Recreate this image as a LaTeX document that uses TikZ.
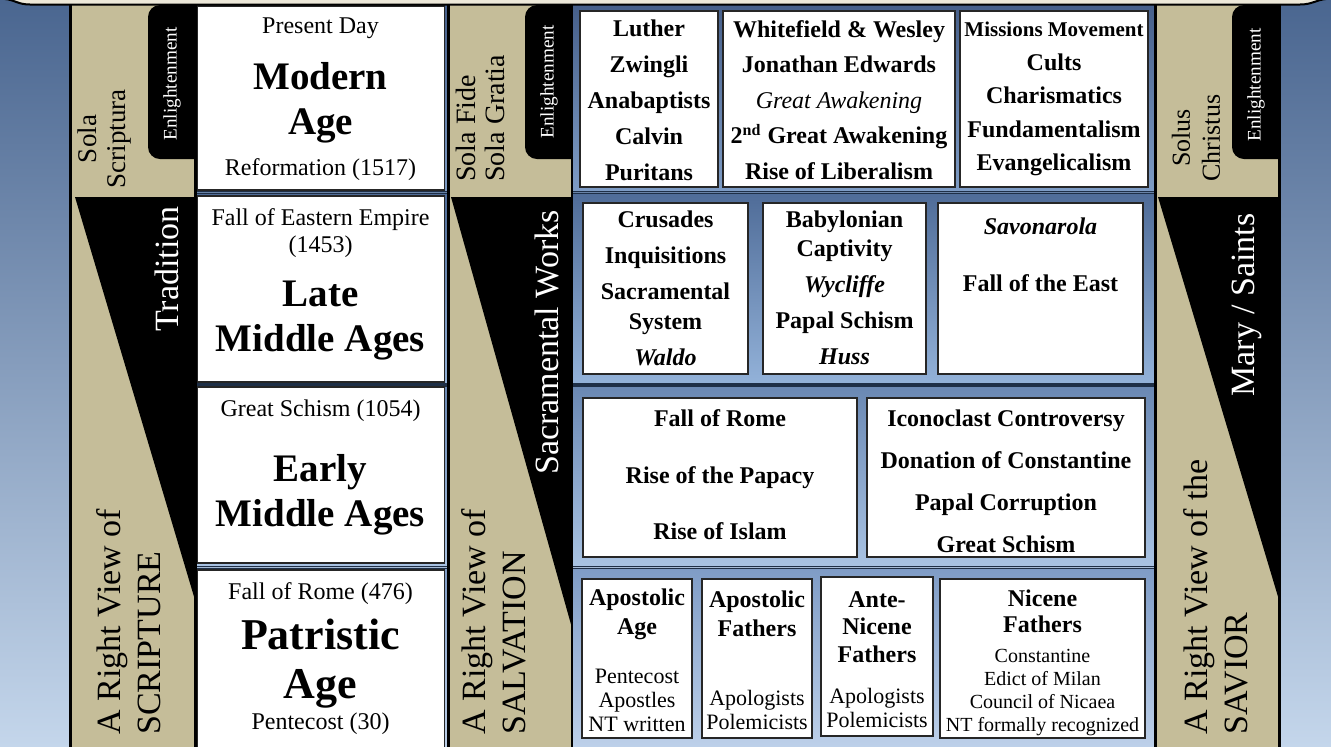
\documentclass[tikz,border=0pt]{standalone}
\usepackage{fontspec}
\setmainfont{Liberation Serif}
\definecolor{bgtop}{HTML}{4A6690}
\definecolor{bgbot}{HTML}{C4D6EB}
\definecolor{beige}{HTML}{C5BD99}
\definecolor{cream}{HTML}{EDE8D9}
\definecolor{panline}{HTML}{1E2F47}
\definecolor{pta}{HTML}{465F8A}
\definecolor{pba}{HTML}{7E9CC5}
\definecolor{ptb}{HTML}{4F6C98}
\definecolor{pbb}{HTML}{93B2D9}
\definecolor{ptc}{HTML}{6A88B3}
\definecolor{pbc}{HTML}{A9C3E3}
\definecolor{ptd}{HTML}{7F9CC6}
\definecolor{pbd}{HTML}{BED1EA}
\begin{document}
\begin{tikzpicture}[x=0.5pt, y=-0.5pt,
    panel/.style={draw=panline, line width=0.8pt},
    whitebox/.style={draw=black!85, fill=white, line width=0.6pt},
    colborder/.style={draw=black, line width=1.3pt},
    rot/.style={rotate=90, inner sep=0pt},
    big/.style={font=\fontsize{17}{20}\selectfont},
    evt/.style={align=center, inner sep=0pt, font=\fontsize{12}{18}\selectfont\bfseries},
    sub/.style={align=center, inner sep=0pt, font=\fontsize{11}{12}\selectfont},
    per/.style={align=center, inner sep=0pt, font=\fontsize{12}{13.5}\selectfont},
    era/.style={align=center, inner sep=0pt, font=\fontsize{19.5}{22.5}\selectfont\bfseries},
    enl/.style={rotate=90, inner sep=0pt, text=white, font=\fontsize{9.6}{11}\selectfont}]
  \useasboundingbox (0,0) rectangle (1331,746);
  \shade[top color=bgtop, bottom color=bgbot] (0,0) rectangle (1331,746);

  \shadedraw[panel, top color=pta, bottom color=pba] (195,4) rectangle (1155,191.5);
  \shadedraw[panel, top color=ptb, bottom color=pbb] (195,193.5) rectangle (1155,384);
  \shadedraw[panel, top color=ptc, bottom color=pbc] (195,386) rectangle (1155,566.5);
  \shadedraw[panel, top color=ptd, bottom color=pbd] (195,568.5) rectangle (1155,750);

  \draw[whitebox] (197.5,6) rectangle (444.5,190);
  \draw[whitebox] (197.5,196) rectangle (444.5,382);
  \draw[whitebox] (197.5,387) rectangle (444.5,563);
  \draw[whitebox] (197.5,570) rectangle (444.5,748);

  \draw[whitebox] (580,11) rectangle (718,187);
  \draw[whitebox] (723,11) rectangle (955,187);
  \draw[whitebox] (960,11) rectangle (1148,187);
  \draw[whitebox] (583,203) rectangle (748,374);
  \draw[whitebox] (763,203) rectangle (926,374);
  \draw[whitebox] (938,203) rectangle (1143,374);
  \draw[whitebox] (583,398) rectangle (857,557);
  \draw[whitebox] (867,398) rectangle (1145,557);
  \draw[whitebox] (582,579) rectangle (692,738);
  \draw[whitebox] (702,579) rectangle (812,738);
  \draw[whitebox] (821,577) rectangle (933,736);
  \draw[whitebox] (940,579) rectangle (1145,738);

  \fill[beige] (70.5,4) rectangle (195.5,750);
  \fill[beige] (448.5,4) rectangle (572,750);
  \fill[beige] (1155.5,4) rectangle (1279.5,750);

  \fill[rounded corners=6pt] (195,5) -- (148,5) -- (148,159) -- (195,159);
  \fill[rounded corners=6pt] (572,5) -- (525,5) -- (525,159) -- (572,159);
  \fill[rounded corners=6pt] (1279,5) -- (1232,5) -- (1232,159) -- (1279,159);
  \fill (75,197) -- (195,197) -- (195,600) -- cycle;
  \fill (451,197) -- (572,197) -- (572,628) -- cycle;
  \fill (1158,197) -- (1279,197) -- (1279,600) -- cycle;

  \draw[colborder] (70.5,4) rectangle (195.5,750);
  \draw[colborder] (448.5,4) rectangle (572,750);
  \draw[colborder] (1155.5,4) rectangle (1279.5,750);

  \fill[cream] (0,-10) -- (0,-1) .. controls (15,0) and (18,4.5) .. (30,4.5) -- (1300,4.5)
    .. controls (1312,4.5) and (1316,0) .. (1331,-1) -- (1331,-10) -- cycle;
  \draw[line width=1pt] (5,-1) .. controls (15,0) and (18,4.5) .. (30,4.5) -- (1300,4.5)
    .. controls (1312,4.5) and (1316,0) .. (1326,-1);

  \node[rot, align=center, font=\fontsize{13.5}{14.5}\selectfont] (solascr) at (105,139) {Sola\\Scriptura};
  \node[rot, anchor=west, align=left, font=\fontsize{14}{14.5}\selectfont] (solafide) at (480,182) {Sola Fide\\Sola Gratia};
  \node[rot, align=center, font=\fontsize{13}{15}\selectfont] (solus) at (1196,138) {Solus\\Christus};
  \node[enl] (enla) at (172,84) {Enlightenment};
  \node[enl] (enlb) at (549,82) {Enlightenment};
  \node[enl] (enlc) at (1256,85) {Enlightenment};
  \node[rot, big, anchor=east, text=white] (trad) at (167,206) {Tradition};
  \node[rot, big, anchor=east, text=white] (sacr) at (547,210) {Sacramental Works};
  \node[rot, big, anchor=east, text=white] (mary) at (1247,213) {Mary / Saints};
  \node[rot, big, anchor=west, align=left] (rvscr) at (129,735) {A Right View of\\SCRIPTURE};
  \node[rot, big, anchor=west, align=left] (rvsal) at (494,735) {A Right View of\\SALVATION};
  \node[rot, big, anchor=west, align=left] (rvsav) at (1216,735) {A Right View of the\\SAVIOR};

  \node[per] (present) at (320.5,28) {Present Day};
  \node[era] (modern) at (320.5,103) {Modern\\Age};
  \node[per] (reform) at (320.5,170) {Reformation (1517)};
  \node[per] (east) at (320.5,233) {Fall of Eastern Empire\\(1453)};
  \node[era] (late) at (320.5,321) {Late\\Middle Ages};
  \node[per] (schism) at (320.5,411) {Great Schism (1054)};
  \node[era] (early) at (320.5,495) {Early\\Middle Ages};
  \node[per] (rome) at (320.5,594) {Fall of Rome (476)};
  \node[era, font=\fontsize{22}{24.5}\selectfont\bfseries] (patr) at (320.5,664) {Patristic\\Age};
  \node[per] (pent) at (320.5,724) {Pentecost (30)};

  \node[evt] (luther) at (649,100) {Luther\\Zwingli\\Anabaptists\\Calvin\\Puritans};
  \node[evt, font=\fontsize{12}{17.75}\selectfont\bfseries] (wesley) at (839,100)
    {Whitefield \& Wesley\\Jonathan Edwards\\{\mdseries\itshape Great Awakening}\\2\textsuperscript{nd} Great Awakening\\Rise of Liberalism};
  \node[evt, font=\fontsize{12}{16.75}\selectfont\bfseries] (missions) at (1054,99)
    {{\fontsize{10.5}{12}\selectfont Missions Movement}\\Cults\\Charismatics\\Fundamentalism\\Evangelicalism};
  \node[evt] (crusades) at (665.5,288) {Crusades\\Inquisitions\\Sacramental\\[-3pt]System\\\textit{Waldo}};
  \node[evt] (babylon) at (844.5,288) {Babylonian\\[-3.5pt]Captivity\\\textit{Wycliffe}\\Papal Schism\\\textit{Huss}};
  \node[evt] (savon) at (1040.5,255) {\textit{Savonarola}\\[10.5pt]Fall of the East};
  \node[evt] (fallrome) at (720,475) {Fall of Rome\\[10.25pt]Rise of the Papacy\\[10.25pt]Rise of Islam};
  \node[evt] (icono) at (1006,481) {Iconoclast Controversy\\[3pt]Donation of Constantine\\[3pt]Papal Corruption\\[3pt]Great Schism};
  \node[evt, font=\fontsize{12}{14.5}\selectfont\bfseries] (apage) at (637,614) {Apostolic\\Age};
  \node[evt, font=\fontsize{12}{14.5}\selectfont\bfseries] (apfath) at (757,614) {Apostolic\\Fathers};
  \node[evt, font=\fontsize{12}{13.75}\selectfont\bfseries] (ante) at (877,627) {Ante-\\Nicene\\Fathers};
  \node[evt, font=\fontsize{12}{13}\selectfont\bfseries] (nicene) at (1042.5,611) {Nicene\\Fathers};
  \node[sub] (apagelist) at (637,700) {Pentecost\\Apostles\\NT written};
  \node[sub] (apfathlist) at (757,710) {Apologists\\Polemicists};
  \node[sub] (antelist) at (877,708) {Apologists\\Polemicists};
  \node[sub, font=\fontsize{10}{11.5}\selectfont] (nicenelist) at (1042.5,693)
    {Constantine\\Edict of Milan\\Council of Nicaea\\NT formally recognized};
\end{tikzpicture}
\end{document}
